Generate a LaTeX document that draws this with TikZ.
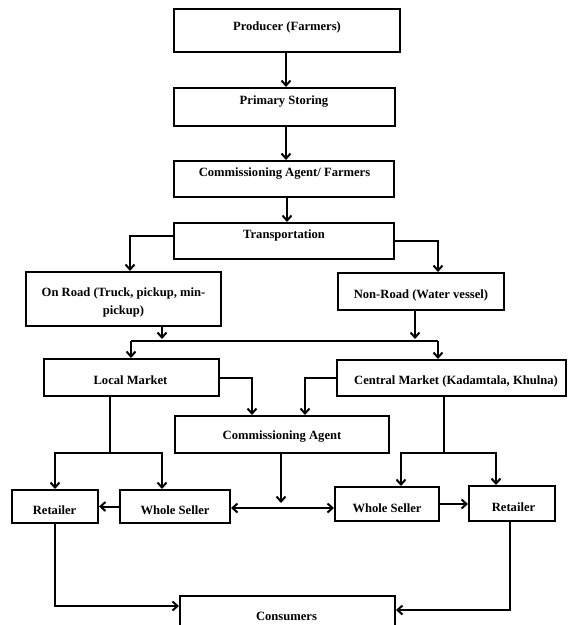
\documentclass[tikz,border=0pt]{standalone}
\usepackage{fontspec}
\setmainfont{Liberation Serif}
\usetikzlibrary{arrows.meta}
\begin{document}
\begin{tikzpicture}[x=1pt,y=-1pt,
  box/.style={draw, line width=2pt, inner sep=0pt},
  lbl/.style={font=\fontsize{12.6}{18}\selectfont\bfseries, inner sep=0pt, anchor=base},
  arr/.style={line width=2pt, -{Straight Barb[length=5pt,width=9pt]}},
  dbl/.style={line width=2pt, {Straight Barb[length=5pt,width=9pt]}-{Straight Barb[length=5pt,width=9pt]}},
  ln/.style={line width=2pt}]
\useasboundingbox (0,0) rectangle (568,625);
% boxes
\node[box, minimum width=226pt, minimum height=43pt] (prod) at (287,30.5) {};
\node[box, minimum width=221pt, minimum height=38pt] (prim) at (284.5,107) {};
\node[box, minimum width=220pt, minimum height=36pt] (caf) at (284,179) {};
\node[box, minimum width=220pt, minimum height=36pt] (trans) at (284,241) {};
\node[box, minimum width=195pt, minimum height=54pt] (onroad) at (123.5,299) {};
\node[box, minimum width=166pt, minimum height=37pt] (nonroad) at (421,291.5) {};
\node[box, minimum width=175pt, minimum height=37pt] (local) at (131.5,377.5) {};
\node[box, minimum width=229pt, minimum height=36pt] (central) at (451.5,378) {};
\node[box, minimum width=214pt, minimum height=37pt] (ca) at (282,434.5) {};
\node[box, minimum width=86pt, minimum height=33pt] (retL) at (55,506.5) {};
\node[box, minimum width=110pt, minimum height=33pt] (wsL) at (175,506.5) {};
\node[box, minimum width=104pt, minimum height=34pt] (wsR) at (387,504) {};
\node[box, minimum width=86pt, minimum height=35pt] (retR) at (512,503.5) {};
\node[box, minimum width=215pt, minimum height=44pt] (cons) at (287.5,618) {};
% texts
\node[lbl] (prodT) at (287,30) {Producer (Farmers)};
\node[lbl] (primT) at (284,104) {Primary Storing};
\node[lbl] (cafT) at (284.5,176) {Commissioning Agent/ Farmers};
\node[lbl] (transT) at (284,238) {Transportation};
\node[lbl, anchor=center, align=center] (onroadT) at (123.5,302) {On Road (Truck, pickup, min-\\pickup)};
\node[lbl] (nonroadT) at (421,298) {Non-Road (Water vessel)};
\node[lbl] (localT) at (130.5,384) {Local Market};
\node[lbl] (centralT) at (456,384) {Central Market (Kadamtala, Khulna)};
\node[lbl] (caT) at (282,439) {Commissioning Agent};
\node[lbl] (retLT) at (54.5,514) {Retailer};
\node[lbl] (wsLT) at (175,514) {Whole Seller};
\node[lbl] (wsRT) at (387,512) {Whole Seller};
\node[lbl] (retRT) at (513.5,511) {Retailer};
\node[lbl] (consT) at (286.5,620) {Consumers};
% junction coordinates
\coordinate (tl) at (130,236);
\coordinate (tr) at (438,241);
\coordinate (j1) at (131,341);
\coordinate (j2) at (438,341);
\coordinate (or1) at (162,341);
\coordinate (nr1) at (415,341);
\coordinate (s1) at (110,453);
\coordinate (s2) at (444,453);
\coordinate (m) at (281,508);
\coordinate (cl) at (180,606);
\coordinate (cr) at (395,610);
% connectors
\draw[arr] (prod.south -| 286,0) -- (prim.north -| 286,0);
\draw[arr] (prim.south -| 286,0) -- (caf.north -| 286,0);
\draw[arr] (caf.south -| 287,0) -- (trans.north -| 287,0);
\draw[arr] (trans.west |- tl) -| (onroad.north -| tl);
\draw[arr] (trans.east |- tr) -| (nonroad.north -| tr);
\draw[arr] (onroad.south -| or1) -- ([yshift=2pt]or1);
\draw[arr] (nonroad.south -| nr1) -- ([yshift=2pt]nr1);
\draw[ln] (j1) -- (j2);
\draw[arr] (j1) -- (local.north -| j1);
\draw[arr] (j2) -- (central.north -| j2);
\draw[arr] (local.east) -| ([xshift=-30pt]ca.north);
\draw[arr] (central.west) -| ([xshift=23pt]ca.north);
\draw[ln] (local.south -| s1) -- (s1);
\draw[arr] (s1) -| (retL.north);
\draw[arr] (s1) -| ([xshift=-13pt]wsL.north);
\draw[ln] (central.south -| s2) -- (s2);
\draw[arr] (s2) -| ([xshift=14pt]wsR.north);
\draw[arr] (s2) -| ([xshift=-16pt]retR.north);
\draw[arr] (ca.south -| m) -- ([yshift=5pt]m);
\draw[dbl] (wsL.east |- m) -- (wsR.west |- m);
\draw[arr] (wsL.west) -- (retL.east |- wsL.west);
\draw[arr] (wsR.east) -- (retR.west |- wsR.east);
\draw[arr] (retL.south) |- (cons.west |- cl);
\draw[arr] ([xshift=-2pt]retR.south) |- (cons.east |- cr);
\end{tikzpicture}
\end{document}
